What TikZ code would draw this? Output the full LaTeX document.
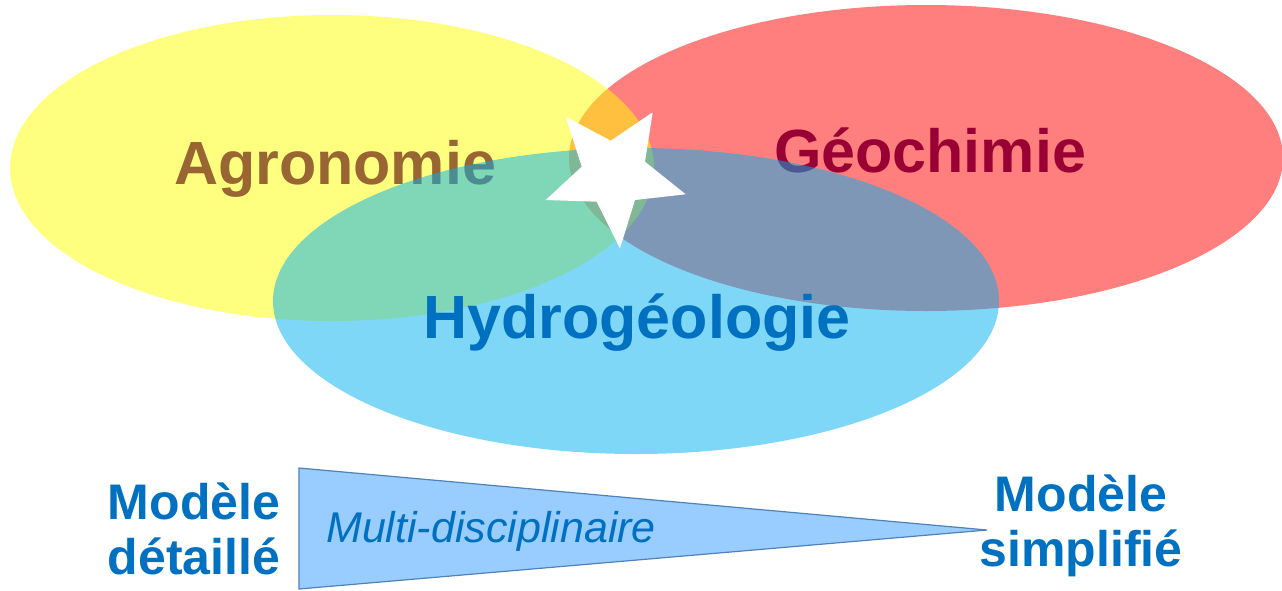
\documentclass[tikz,border=0pt]{standalone}
\usepackage{fontspec}
\setmainfont{Liberation Sans}
\definecolor{cyell}{HTML}{FFFF00}
\definecolor{cred}{HTML}{FF0000}
\definecolor{cblue}{HTML}{00B0F0}
\definecolor{tbrown}{HTML}{996633}
\definecolor{tdred}{HTML}{990033}
\definecolor{tblue}{HTML}{0070C0}
\definecolor{trifill}{HTML}{99CCFF}
\definecolor{triedge}{HTML}{4F81BD}
\tikzset{
  blob/.style={fill opacity=0.5, draw=none},
  bigtxt/.style={font=\bfseries\fontsize{61}{61}\selectfont, anchor=base, inner sep=0pt},
  modtxt/.style={font=\bfseries\fontsize{50}{55}\selectfont, text=tblue, align=center, inner sep=0pt},
}
\begin{document}
\begin{tikzpicture}[x=1pt,y=-1pt]
\useasboundingbox (0,0) rectangle (1282,590);
\clip (0,0) rectangle (1282,590);
% ellipses
\fill[cred, blob] (926,158) ellipse [x radius=357pt, y radius=153pt];
\fill[cyell, blob] (332,168) ellipse [x radius=322pt, y radius=153pt];
\node[bigtxt, text=tbrown] (agro) at (335,184) {Agronomie};
\node[bigtxt, text=tdred] (geo) at (930,172) {Géochimie};
\fill[cblue, blob] (636,301) ellipse [x radius=363pt, y radius=153pt];
\node[bigtxt, text=tblue] (hydro) at (637,338) {Hydrogéologie};
% star
\fill[white] (565.7,116.7) -- (610.7,140.7) -- (652.7,112.3) -- (645,161.7)
  -- (685.7,194.3) -- (635,200) -- (620,248.3) -- (596.7,201.7)
  -- (545.7,200) -- (581.7,166.7) -- cycle;
% triangle
\coordinate (tl) at (299,468);
\coordinate (bl) at (299,589);
\coordinate (tip) at (987,530);
\filldraw[fill=trifill, draw=triedge, line width=1.2pt, line join=miter] (tl) -- (tip) -- (bl) -- cycle;
\node[font=\itshape\fontsize{43}{43}\selectfont, text=tblue, anchor=base west, inner sep=0pt] (multi) at (326,542) {Multi-disciplinaire};
\node[modtxt] (mleft) at (194,529) {Modèle\\détaillé};
\node[modtxt] (mright) at (1081,526) {Modèle\\simplifié};
\end{tikzpicture}
\end{document}
